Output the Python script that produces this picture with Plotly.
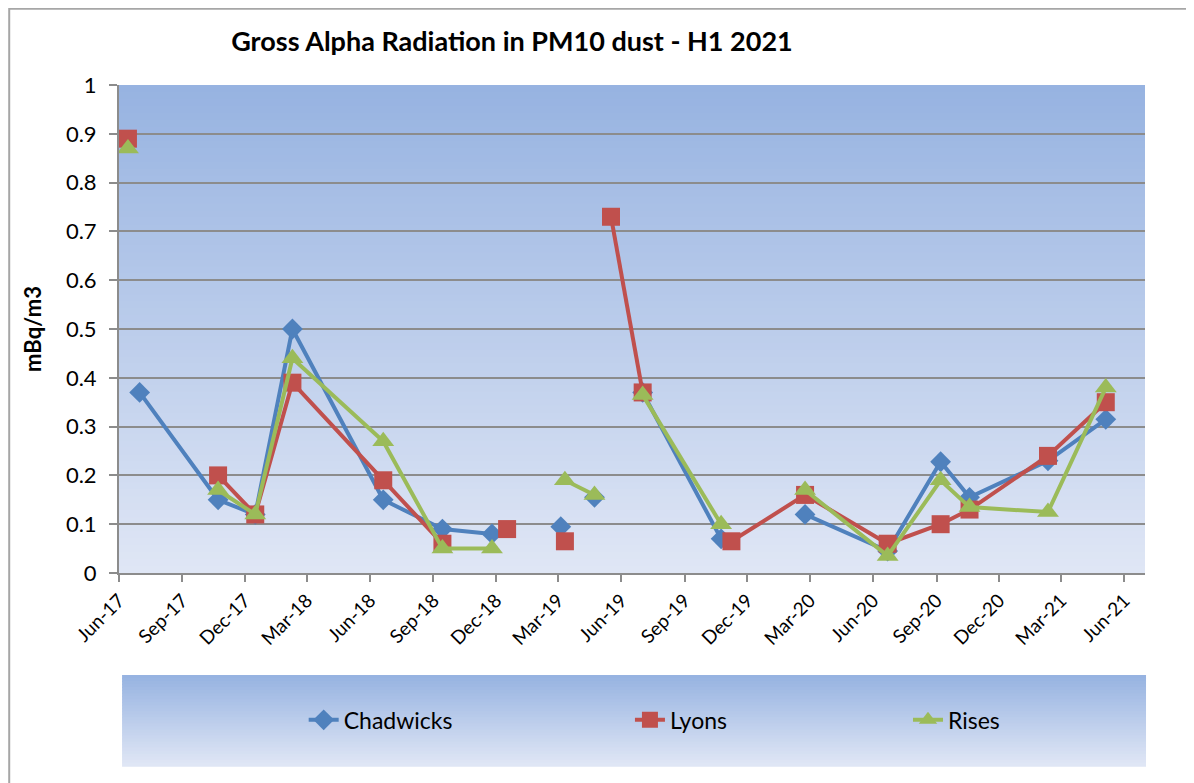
import plotly.graph_objects as go

# sampling dates shared by the three sites (blank cells -> None, shown as gaps)
dates = [
    "2017-06-14", "2017-07-01", "2017-10-23", "2017-12-16", "2018-02-08",
    "2018-06-20", "2018-09-14", "2018-11-25", "2018-12-17", "2019-03-05",
    "2019-03-11", "2019-04-23", "2019-05-17", "2019-07-02", "2019-10-24",
    "2019-11-08", "2020-02-23", "2020-06-22", "2020-09-07", "2020-10-19",
    "2021-02-10", "2021-05-05",
]
chadwicks = [None, 0.37, 0.15, 0.12, 0.50, 0.15, 0.09, 0.08, None, 0.095,
             None, 0.155, None, 0.37, 0.07, None, 0.12, 0.045, 0.228, 0.155,
             0.23, 0.315]
lyons = [0.89, None, 0.20, 0.12, 0.39, 0.19, 0.06, None, 0.09, None,
         0.065, None, 0.73, 0.37, None, 0.065, 0.16, 0.06, 0.10, 0.13,
         0.24, 0.35]
rises = [0.87, None, 0.17, 0.12, 0.44, 0.27, 0.05, 0.05, None, None,
         0.19, 0.16, None, 0.365, 0.10, None, 0.17, 0.035, 0.19, 0.135,
         0.125, 0.38]

series = [
    ("Chadwicks", chadwicks, "#4F81BD", "diamond", 16, "legend"),
    ("Lyons", lyons, "#C0504D", "square", 18, "legend2"),
    ("Rises", rises, "#9BBB59", "triangle-up", 19, "legend3"),
]

FONT = "Lato, 'Open Sans', sans-serif"
GRID = "#8C8C8C"
TOP = (151, 179, 225)
BOTTOM = (223, 230, 245)


def gradient(x0, x1, y0, y1, n=60):
    # Excel style vertical fill, dark blue at top fading to pale at bottom
    out = []
    for i in range(n):
        t = i / (n - 1)
        c = tuple(round(TOP[k] + (BOTTOM[k] - TOP[k]) * t) for k in range(3))
        ya = y1 - (y1 - y0) * i / n
        yb = y1 - (y1 - y0) * (i + 1) / n
        out.append(dict(type="rect", xref="paper", yref="paper",
                        x0=x0, x1=x1, y0=yb - 0.002, y1=ya,
                        fillcolor="rgb(%d,%d,%d)" % c, line_width=0,
                        layer="below"))
    return out


fig = go.Figure()

for name, vals, color, symbol, size, leg in series:
    fig.add_trace(go.Scatter(
        x=dates, y=vals, name=name, mode="lines+markers",
        connectgaps=False, legend=leg,
        line=dict(color=color, width=4),
        marker=dict(symbol=symbol, size=size, color=color),
    ))

shapes = gradient(0, 1, 0, 1, 70)
shapes += gradient(0.003, 1.001, -0.395, -0.209, 30)
shapes.append(dict(type="rect", xref="paper", yref="paper",
                   x0=-0.107, x1=1.3, y0=-0.6, y1=1.156,
                   line=dict(color="#A6A6A6", width=2), layer="below"))

legend_style = dict(orientation="h", yanchor="middle", y=-0.301,
                    xanchor="left", bgcolor="rgba(0,0,0,0)",
                    font=dict(family=FONT, size=23, color="#000"))

fig.update_layout(
    width=1186, height=775,
    margin=dict(l=111, r=49, t=77, b=210),
    paper_bgcolor="white",
    plot_bgcolor="rgba(0,0,0,0)",
    font=dict(family=FONT, color="#000"),
    title=dict(text="<b>Gross Alpha Radiation in PM10 dust - H1 2021</b>",
               x=0.383, xref="paper", xanchor="center",
               y=1 - 34 / 775, yref="container", yanchor="middle",
               font=dict(family=FONT, size=27, color="#000")),
    shapes=shapes,
    showlegend=True,
    legend=dict(legend_style, x=0.180),
    legend2=dict(legend_style, x=0.498),
    legend3=dict(legend_style, x=0.769),
    xaxis=dict(
        type="date", range=["2017-06-01", "2021-07-01"],
        dtick="M3", tick0="2017-06-01", tickformat="%b-%y",
        tickangle=-45, ticks="outside", ticklen=7, tickwidth=2,
        tickcolor=GRID, showgrid=False, showline=True, linecolor=GRID,
        linewidth=2, zeroline=False,
        tickfont=dict(family=FONT, size=19, color="#000"),
    ),
    yaxis=dict(
        range=[0, 1], dtick=0.1, tickformat="~g",
        ticks="outside", ticklen=8, tickwidth=2, tickcolor=GRID,
        showgrid=True, gridcolor=GRID, gridwidth=2,
        showline=True, linecolor=GRID, linewidth=2, zeroline=False,
        ticklabelstandoff=8,
        tickfont=dict(family=FONT, size=22, color="#000"),
        title=dict(text="<b>mBq/m3</b>", standoff=18,
                   font=dict(family=FONT, size=22, color="#000")),
    ),
)

fig.write_html("out.html")
